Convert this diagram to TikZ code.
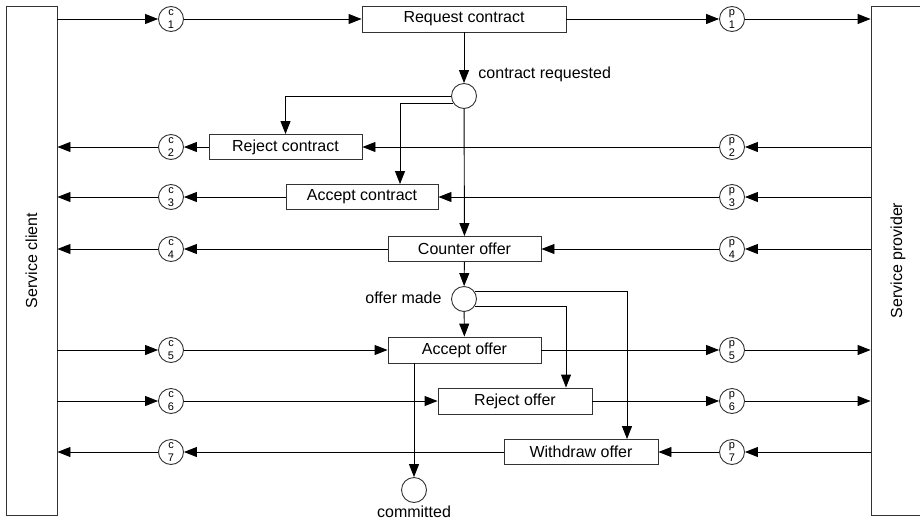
\documentclass[tikz,border=0pt]{standalone}
\usepackage{fontspec}
\setmainfont{Liberation Sans}
\usetikzlibrary{arrows.meta}
\definecolor{bd}{HTML}{333333}
\begin{document}
\begin{tikzpicture}[x=1pt,y=-1pt,
  line width=0.9pt,
  every node/.style={font=\fontsize{16}{18}\selectfont},
  arr/.style={-{Triangle[length=13pt,width=10pt]}},
  box/.style={draw=bd,rectangle,inner sep=0pt,minimum height=25pt},
  pl/.style={draw=bd,circle,inner sep=0pt,minimum size=25pt,align=center,font=\fontsize{11}{12.5}\selectfont},
  st/.style={draw=bd,circle,inner sep=0pt,minimum size=25pt},
  lbl/.style={inner sep=0pt}]
\useasboundingbox (0,0) rectangle (920,522);
\clip (0,0) rectangle (920,522);
% actors
\node[draw=bd,rectangle,inner sep=0pt,minimum width=51pt,minimum height=509pt] (client) at (31.5,260.5) {\rotatebox{90}{Service client}};
\node[draw=bd,rectangle,inner sep=0pt,minimum width=54pt,minimum height=509pt] (provider) at (898,260.5) {\rotatebox{90}{Service provider}};
% activity boxes
\node[box,minimum width=204pt,minimum height=26pt] (req) at (464,19) {Request contract};
\node[box,minimum width=153pt] (rej) at (285.5,147) {Reject contract};
\node[box,minimum width=152pt] (acc) at (362,197) {Accept contract};
\node[box,minimum width=153pt] (co) at (464.5,249) {Counter offer};
\node[box,minimum width=153pt,minimum height=26pt] (ao) at (464.5,350) {Accept offer};
\node[box,minimum width=154pt,minimum height=26pt] (ro) at (515,401) {Reject offer};
\node[box,minimum width=154pt] (wo) at (581,452) {Withdraw offer};
% places
\node[pl] (c1) at (171,19) {c\\1};
\node[pl] (c2) at (171,147) {c\\2};
\node[pl] (c3) at (171,197) {c\\3};
\node[pl] (c4) at (171,249) {c\\4};
\node[pl] (c5) at (171,350) {c\\5};
\node[pl] (c6) at (171,401) {c\\6};
\node[pl] (c7) at (171,452) {c\\7};
\node[pl] (p1) at (732,19) {p\\1};
\node[pl] (p2) at (732,147) {p\\2};
\node[pl] (p3) at (732,197) {p\\3};
\node[pl] (p4) at (732,249) {p\\4};
\node[pl] (p5) at (732,350) {p\\5};
\node[pl] (p6) at (732,401) {p\\6};
\node[pl] (p7) at (732,452) {p\\7};
% states
\node[st] (cr) at (464,96) {};
\node[st] (om) at (464,299) {};
\node[st] (cm) at (414,490) {};
\node[lbl,anchor=west] (crl) at (478,74) {contract requested};
\node[lbl,anchor=east] (oml) at (442,298) {offer made};
\node[lbl] (cml) at (414,512) {committed};
% rows client -> provider
\draw[arr] (client.east |- c1) -- (c1);
\draw[arr] (c1) -- (req);
\draw[arr] (req) -- (p1);
\draw[arr] (p1) -- (provider.west |- p1);
\draw[arr] (client.east |- c5) -- (c5);
\draw[arr] (c5) -- (ao);
\draw[arr] (ao) -- (p5);
\draw[arr] (p5) -- (provider.west |- p5);
\draw[arr] (client.east |- c6) -- (c6);
\draw[arr] (c6) -- (ro);
\draw[arr] (ro) -- (p6);
\draw[arr] (p6) -- (provider.west |- p6);
% rows provider -> client
\draw[arr] (provider.west |- p2) -- (p2);
\draw[arr] (p2) -- (rej);
\draw[arr] (rej) -- (c2);
\draw[arr] (c2) -- (client.east |- c2);
\draw[arr] (provider.west |- p3) -- (p3);
\draw[arr] (p3) -- (acc);
\draw[arr] (acc) -- (c3);
\draw[arr] (c3) -- (client.east |- c3);
\draw[arr] (provider.west |- p4) -- (p4);
\draw[arr] (p4) -- (co);
\draw[arr] (co) -- (c4);
\draw[arr] (c4) -- (client.east |- c4);
\draw[arr] (provider.west |- p7) -- (p7);
\draw[arr] (p7) -- (wo);
\draw[arr] (wo) -- (c7);
\draw[arr] (c7) -- (client.east |- c7);
% control flow
\draw[arr] (req) -- (cr);
\draw[arr] (cr.west) -| (rej.north);
\draw[arr] (cr.214) -| ([xshift=38pt]acc.north);
\draw[arr] (cr) -- (co);
\draw[arr] (co) -- (om);
\draw[arr] (om) -- (ao);
\draw[arr] (om.34) -| ([xshift=46pt]wo.north);
\draw[arr] (om.-34) -| ([xshift=51pt]ro.north);
\draw[arr] ([xshift=-50.5pt]ao.south) -- (cm);
\end{tikzpicture}
\end{document}
